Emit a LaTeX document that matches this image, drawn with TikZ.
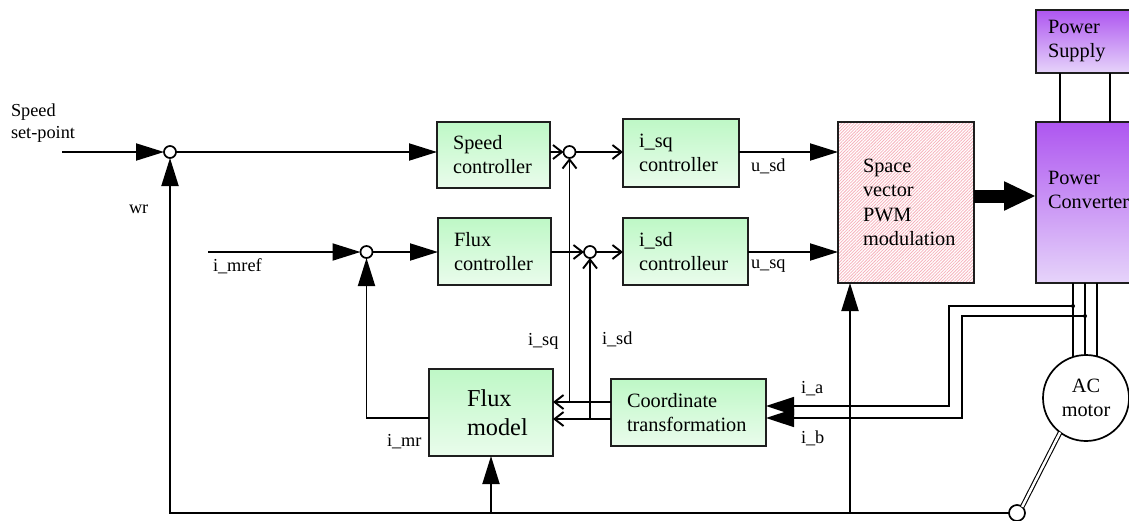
\documentclass[tikz,border=0pt]{standalone}
\usepackage{fontspec}
\setmainfont{Liberation Serif}
\usetikzlibrary{arrows.meta,patterns.meta}
\hyphenpenalty=10000
\exhyphenpenalty=10000
\definecolor{gtop}{RGB}{190,248,198}
\definecolor{gbot}{RGB}{234,252,236}
\definecolor{ptop}{RGB}{174,86,240}
\definecolor{pbot}{RGB}{230,212,250}
\definecolor{hatchc}{RGB}{246,178,188}
\definecolor{bord}{RGB}{30,30,30}
\begin{document}
\begin{tikzpicture}[x=1pt,y=-1pt,
  every node/.style={inner sep=0pt, outer sep=0pt},
  boxfont/.style={font=\fontsize{20.3}{24}\selectfont},
  gbox/.style={draw=bord, line width=1.7pt, top color=gtop, bottom color=gbot, align=left, boxfont},
  pbox/.style={draw=bord, line width=1.7pt, top color=ptop, bottom color=pbot, align=left, boxfont},
  sumpt/.style={circle, draw, fill=white, line width=1.7pt, minimum size=12pt},
  lbl/.style={anchor=base west, align=left, font=\fontsize{18.3}{21.5}\selectfont},
  farr/.style={line width=1.9pt, -{Triangle[length=28pt,width=17pt]}},
  barr/.style={line width=1.9pt, -{Straight Barb[length=9pt,width=14pt]}},
  sig/.style={line width=1.5pt},
  sigarr/.style={line width=1.5pt, -{Triangle[length=28pt,width=18pt]}}
]
\clip (0,0) rectangle (1129,520);

% blocks
\node[gbox, text width=81pt, inner xsep=16pt, minimum height=66pt] (spd) at (493.5,155) {Speed\\controller};
\node[gbox, text width=84pt, inner xsep=16pt, minimum height=68pt] (isq) at (681,153) {i\_sq\\controller};
\node[gbox, text width=81pt, inner xsep=16pt, minimum height=67pt] (fc) at (494.5,251.5) {Flux\\controller};
\node[gbox, text width=93pt, inner xsep=16pt, minimum height=67pt] (isd) at (685.5,251.5) {i\_sd\\controlleur};
\node[gbox, font=\fontsize{24.3}{29}\selectfont, text width=48pt, inner xsep=38pt, minimum height=87pt] (fm) at (491,412.5) {\mbox{Flux}\\\mbox{model}};
\node[gbox, text width=123pt, inner xsep=16pt, minimum height=67pt] (ct) at (688.5,412.5) {Coordinate\\transformation};
\node[draw=bord, line width=1.7pt, pattern={Lines[angle=45,distance=2.2pt,line width=0.8pt]}, pattern color=hatchc,
  text width=86pt, inner xsep=25pt, minimum height=161pt, align=left, font=\fontsize{20.3}{24.5}\selectfont] (svm) at (906,202.5) {Space\\vector\\PWM\\\mbox{modulation}};
\node[pbox, text width=86pt, inner xsep=12pt, minimum height=63pt] (ps) at (1091,41.5) {Power\\Supply};
\node[pbox, minimum width=110pt, minimum height=161pt] (conv) at (1091,202.5) {};
\node[anchor=base west, align=left, boxfont] (convtxt) at (1048,208) {Power\\Converter};
\node[circle, draw, line width=1.7pt, minimum size=86pt, align=center, boxfont] (m) at (1086,398) {AC\\motor};

% summing points
\node[sumpt] (s1) at (170,152) {};
\node[sumpt] (s2) at (366.5,252) {};
\node[sumpt] (s3) at (569.5,152) {};
\node[sumpt] (s4) at (590,252) {};
\node[sumpt, minimum size=16pt] (s5) at (1017,513) {};

% labels
\node[lbl] (lsp) at (11,138) {Speed\\set-point};
\node[lbl] (lwr) at (129,213) {wr};
\node[lbl] (lim) at (213,271) {i\_mref};
\node[lbl] (lusd) at (751,171) {u\_sd};
\node[lbl] (lusq) at (751,268) {u\_sq};
\node[lbl] (lisq) at (528,345) {i\_sq};
\node[lbl] (lisd) at (602,344) {i\_sd};
\node[lbl] (limr) at (387,446) {i\_mr};
\node[lbl] (lia) at (801,393) {i\_a};
\node[lbl] (lib) at (801,443) {i\_b};

% helper coordinates
\coordinate (spin) at (62,152);
\coordinate (imin) at (208,252);
\coordinate (ya) at (0,402);
\coordinate (yb) at (0,419);
\coordinate (yc) at (0,196);
\coordinate (ymr) at (0,418);
\coordinate (svmin) at ([xshift=12pt]svm.south west);
\coordinate (p1) at ([xshift=37pt]conv.south west);
\coordinate (p2) at ([xshift=49pt]conv.south west);
\coordinate (p3) at ([xshift=61pt]conv.south west);
\coordinate (ja) at (1073,306);
\coordinate (jb) at (1085,316);
\coordinate (ka) at (949,406);
\coordinate (kb) at (962,418);

% connectors
\draw[farr] (spin) -- (s1);
\draw[farr] (s1) -- (s1 -| spd.west);
\draw[farr] (s5) -| (s1);
\draw[farr] (fm.south |- s5) -- (fm);
\draw[farr] (svmin |- s5) -- (svmin);
\draw[farr] (imin) -- (s2);
\draw[farr] (s2) -- (s2 -| fc.west);
\draw[farr] (fm.west |- ymr) -| (s2);
\draw[barr] (spd.east |- s3) -- (s3);
\draw[barr] (s3) -- (s3 -| isq.west);
\draw[farr] (isq.east |- s3) -- (s3 -| svm.west);
\draw[barr] (fc.east |- s4) -- (s4);
\draw[barr] (s4) -- (s4 -| isd.west);
\draw[farr] (isd.east |- s4) -- (s4 -| svm.west);
\draw[barr] (ct.west |- ya) -- (fm.east |- ya);
\draw[barr] (ct.west |- yb) -- (fm.east |- yb);
\draw[barr] (s3 |- ya) -- (s3);
\draw[barr] (s4 |- yb) -- (s4);
\draw[line width=13pt, -{Triangle[length=32pt,width=27pt]}] (svm.east |- yc) -- (conv.west |- yc);

\draw[sig] ([xshift=24pt]ps.south west) -- ([xshift=24pt]conv.north west);
\draw[sig] ([xshift=74pt]ps.south west) -- ([xshift=74pt]conv.north west);
\draw[sig] (p1) -- (p1 |- m.107.6);
\draw[sig] (p2) -- (p2 |- m.91.3);
\draw[sig] (p3) -- (p3 |- m.75.2);

\draw[sigarr] (ja) -| (ka) -- (ka -| ct.east);
\draw[sigarr] (jb) -| (kb) -- (kb -| ct.east);
\fill (ja) circle[radius=2pt];
\fill (jb) circle[radius=2pt];

\draw[line width=1.1pt, double, double distance=2.5pt] (s5.50) -- (m.233);
\end{tikzpicture}
\end{document}
